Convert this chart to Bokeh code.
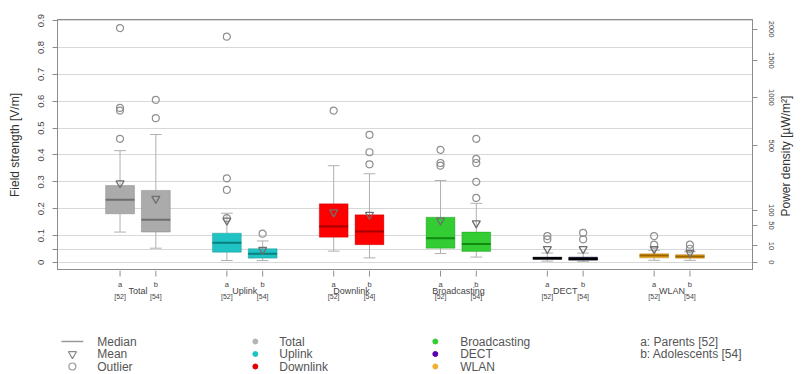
import math
from bokeh.plotting import figure
from bokeh.models import Range1d, FixedTicker, LinearAxis, CustomJSTickFormatter, ColumnDataSource
from bokeh.layouts import column
from bokeh.embed import file_html
from bokeh.resources import INLINE
from bokeh.core.properties import value

# ---------------- data ----------------
groups = ["Total", "Uplink", "Downlink", "Broadcasting", "DECT", "WLAN"]
subgroups = ["a", "b"]
sub_n = ["[52]", "[54]"]
box_colors = ["#ababab", "#1fc3c3", "#ff0000", "#33cc33", "#23234a", "#f2a81d"]
median_colors = ["#6e6e6e", "#0b7f7f", "#a80000", "#108a10", "#000000", "#9a6400"]
legend_colors = ["#b4b4b4", "#1fc3c3", "#e00000", "#33cc33", "#5a00b0", "#f2b030"]

# order: Total a, Total b, Uplink a, Uplink b, ...
lower  = [0.113, 0.053, 0.007, 0.007, 0.042, 0.017, 0.033, 0.020, 0.005, 0.004, 0.008, 0.008]
q1     = [0.181, 0.113, 0.038, 0.016, 0.094, 0.066, 0.053, 0.041, 0.011, 0.008, 0.017, 0.016]
median = [0.233, 0.159, 0.073, 0.032, 0.134, 0.115, 0.090, 0.069, 0.016, 0.013, 0.026, 0.022]
q3     = [0.286, 0.268, 0.109, 0.051, 0.218, 0.177, 0.168, 0.113, 0.020, 0.020, 0.032, 0.029]
upper  = [0.416, 0.476, 0.183, 0.080, 0.360, 0.330, 0.305, 0.220, 0.035, 0.035, 0.045, 0.040]
mean   = [0.295, 0.237, 0.156, 0.047, 0.187, 0.178, 0.156, 0.146, 0.050, 0.050, 0.050, 0.036]
outliers = [
    [0.460, 0.565, 0.575, 0.872],
    [0.537, 0.605],
    [0.165, 0.270, 0.313, 0.840],
    [0.107],
    [0.565],
    [0.365, 0.410, 0.475],
    [0.360, 0.370, 0.419],
    [0.240, 0.300, 0.370, 0.385, 0.460],
    [0.086, 0.098],
    [0.086, 0.110],
    [0.066, 0.098],
    [0.051, 0.066],
]

left_ticks = [0, 0.05, 0.1, 0.2, 0.3, 0.4, 0.5, 0.6, 0.7, 0.8, 0.9]
left_labels = ["0", "", "0.1", "0.2", "0.3", "0.4", "0.5", "0.6", "0.7", "0.8", "0.9"]
right_values = [0, 10, 50, 100, 500, 1000, 1500, 2000]   # power density, µW/m²
right_labels = ["0", "10", "50", "100", "500", "1000", "1500", "2000"]
left_title = "Field strength [V/m]"
right_title = "Power density [µW/m²]"

legend_col1 = ["Median", "Mean", "Outlier"]
legend_notes = ["a: Parents [52]", "b: Adolescents [54]"]

# ---------------- layout constants ----------------
FONT = "Liberation Sans"
TXT = "#444444"
AX = "#8c8c8c"
W = 802
BL, BR = 57, 46           # frame spans page x 57..756
FRAME_TOP, FRAME_H = 19, 251
Y0, Y1 = -0.03, 0.904
X0, X1 = -0.753, 5.753
OFF = 0.1675
BOXW = 0.27
CAPW = 0.11
UPRIGHT = math.pi / 2     # text read bottom-to-top (anchored at its start)
TITLE_BOTTOM_PX = 216     # page y where the right title starts

NEAREST = """
let best = 0, bd = 1e9;
for (let i = 0; i < tk.length; i++) { const d = Math.abs(tk[i] - tick); if (d < bd) { bd = d; best = i; } }
return lbl[best];
"""

xs, cols, mcols = [], [], []
for gi, g in enumerate(groups):
    for si, s in enumerate(subgroups):
        xs.append(gi + (-OFF if si == 0 else OFF))
        cols.append(box_colors[gi])
        mcols.append(median_colors[gi])

# ---------------- main plot ----------------
p = figure(width=W, height=FRAME_TOP + FRAME_H, output_backend="svg", toolbar_location=None,
           x_range=Range1d(X0, X1), y_range=Range1d(Y0, Y1),
           min_border_left=BL, min_border_right=BR, min_border_top=FRAME_TOP, min_border_bottom=0)
p.outline_line_color = AX
p.xgrid.visible = False
p.xaxis.visible = False
p.background_fill_color = "white"
p.border_fill_color = "white"

yt = FixedTicker(ticks=left_ticks)
p.yaxis.ticker = yt
p.ygrid.ticker = yt
p.ygrid.grid_line_color = "#d8d8d8"
p.ygrid.grid_line_width = 1
p.yaxis.formatter = CustomJSTickFormatter(args=dict(tk=left_ticks, lbl=left_labels), code=NEAREST)
p.yaxis.major_label_orientation = "vertical"
p.yaxis.major_label_text_font = FONT
p.yaxis.major_label_text_font_size = "9.5px"
p.yaxis.major_label_text_color = TXT
p.yaxis.major_label_standoff = 8
p.yaxis.major_tick_out = 5
p.yaxis.major_tick_in = 0
p.yaxis.minor_tick_line_color = None
p.yaxis.axis_line_color = AX
p.yaxis.major_tick_line_color = AX
p.yaxis.axis_label = left_title
p.yaxis.axis_label_text_font = FONT
p.yaxis.axis_label_text_font_size = "12px"
p.yaxis.axis_label_text_font_style = "normal"
p.yaxis.axis_label_text_color = "#333333"
p.yaxis.axis_label_standoff = 14

# right axis: power density ticks
right_ticks = [math.sqrt(s * 377e-6) for s in right_values]
ra = LinearAxis(ticker=FixedTicker(ticks=right_ticks),
                formatter=CustomJSTickFormatter(args=dict(tk=right_ticks, lbl=right_labels), code=NEAREST))
ra.major_label_orientation = "vertical"
ra.major_label_text_font = FONT
ra.major_label_text_font_size = "7.5px"
ra.major_label_text_color = TXT
ra.major_label_standoff = 11
ra.major_tick_out = 5
ra.major_tick_in = 0
ra.minor_tick_line_color = None
ra.axis_line_color = AX
ra.major_tick_line_color = AX
p.add_layout(ra, "right")

# outer right "axis" carrying the title, read bottom-to-top
title_y = Y1 - (TITLE_BOTTOM_PX - FRAME_TOP) * (Y1 - Y0) / FRAME_H
rt = LinearAxis(ticker=FixedTicker(ticks=[title_y]),
                formatter=CustomJSTickFormatter(args=dict(t=right_title), code="return t"))
rt.major_label_orientation = UPRIGHT
rt.major_label_text_font = FONT
rt.major_label_text_font_size = "12px"
rt.major_label_text_color = "#333333"
rt.major_label_standoff = 9
rt.major_tick_out = 0
rt.major_tick_in = 0
rt.major_tick_line_color = None
rt.minor_tick_line_color = None
rt.axis_line_color = None
p.add_layout(rt, "right")

src = ColumnDataSource(dict(x=xs, lower=lower, q1=q1, median=median, q3=q3, upper=upper,
                            mean=mean, color=cols, mcolor=mcols,
                            xl=[x - BOXW / 2 for x in xs], xr=[x + BOXW / 2 for x in xs],
                            cl=[x - CAPW / 2 for x in xs], cr=[x + CAPW / 2 for x in xs]))
wc = "#b0b0b0"
p.segment(x0="x", x1="x", y0="q3", y1="upper", source=src, line_color=wc, line_width=1)
p.segment(x0="x", x1="x", y0="lower", y1="q1", source=src, line_color=wc, line_width=1)
p.segment(x0="cl", x1="cr", y0="upper", y1="upper", source=src, line_color=wc, line_width=1)
p.segment(x0="cl", x1="cr", y0="lower", y1="lower", source=src, line_color=wc, line_width=1)

p.vbar(x="x", width=BOXW, bottom="q1", top="q3", source=src, fill_color="color",
       line_color="mcolor", line_alpha=0.35, line_width=1)
p.segment(x0="xl", x1="xr", y0="median", y1="median", source=src, line_color="mcolor", line_width=2)

ox, oy = [], []
for x, outs in zip(xs, outliers):
    for o in outs:
        ox.append(x)
        oy.append(o)
p.scatter(ox, oy, marker="circle", size=7, fill_color=None, line_color="#8f8f8f", line_width=1.2)
p.scatter(x="x", y="mean", source=src, marker="inverted_triangle", size=8,
          fill_color=None, line_color="#6f6f6f", line_width=1.3)

# ---------------- category labels strip (shares x scale, y in page px) ----------------
lab = figure(width=W, height=34, output_backend="svg", toolbar_location=None,
             x_range=p.x_range, y_range=Range1d(304, 270),
             min_border_left=BL, min_border_right=BR, min_border_top=0, min_border_bottom=0)
lab.axis.visible = False
lab.grid.visible = False
lab.outline_line_color = None
lab.border_fill_color = "white"
lab.segment(x0=xs, x1=xs, y0=[270] * len(xs), y1=[276] * len(xs), line_color=AX, line_width=1)
sub_txt = [subgroups[i % 2] for i in range(len(xs))]
n_txt = [sub_n[i % 2] for i in range(len(xs))]
lab.text(x=xs, y=[284] * len(xs), text=sub_txt, text_font=value(FONT), text_font_size="7.5px",
         text_color=TXT, text_align="center", text_baseline="middle")
lab.text(x=xs, y=[296] * len(xs), text=n_txt, text_font=value(FONT), text_font_size="7px",
         text_color=TXT, text_align="center", text_baseline="middle")
lab.text(x=list(range(len(groups))), y=[290] * len(groups), text=groups, text_font=value(FONT),
         text_font_size="9px", text_color=TXT, text_align="center", text_baseline="middle")

# ---------------- legend strip (page px coordinates) ----------------
lg = figure(width=W, height=68, output_backend="svg", toolbar_location=None,
            x_range=Range1d(BL, W - BR), y_range=Range1d(372, 304),
            min_border_left=BL, min_border_right=BR, min_border_top=0, min_border_bottom=0)
lg.axis.visible = False
lg.grid.visible = False
lg.outline_line_color = None
lg.border_fill_color = "white"

rows = [341, 353.5, 366]
LT = "#555555"
LFS = "12px"
lg.segment(x0=[61], x1=[83], y0=[rows[0]], y1=[rows[0]], line_color="#9a9a9a", line_width=1.5)
lg.scatter([72], [rows[1]], marker="inverted_triangle", size=8, fill_color=None, line_color="#8a8a8a", line_width=1.2)
lg.scatter([72], [rows[2]], marker="circle", size=7, fill_color=None, line_color="#9a9a9a", line_width=1.2)
lg.text(x=[97] * 3, y=rows, text=legend_col1, text_font=value(FONT), text_font_size=LFS,
        text_color=LT, text_baseline="middle")
cx = [256] * 3 + [437] * 3
tx = [280] * 3 + [462] * 3
cy = rows + rows
lg.scatter(cx, cy, marker="circle", size=5, fill_color=legend_colors, line_color=legend_colors)
lg.text(x=tx, y=cy, text=groups, text_font=value(FONT), text_font_size=LFS,
        text_color=LT, text_baseline="middle")
lg.text(x=[643, 643], y=rows[:2], text=legend_notes, text_font=value(FONT), text_font_size=LFS,
        text_color=LT, text_baseline="middle")

layout = column(p, lab, lg, spacing=0)
open("out.html", "w").write(file_html(layout, INLINE))
